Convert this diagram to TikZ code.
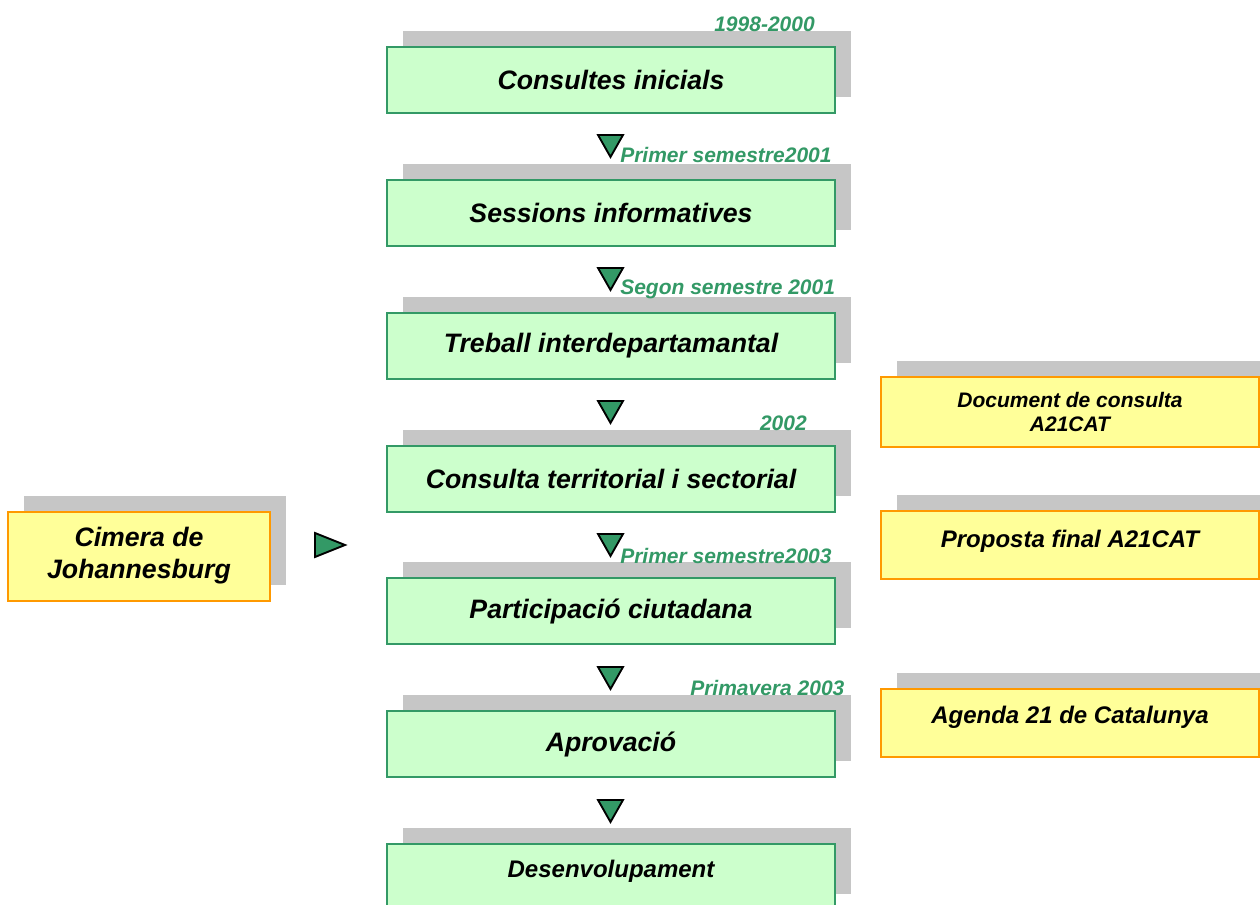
\documentclass[tikz,border=0pt]{standalone}
\usepackage{fontspec}
\setmainfont{Liberation Sans}
\usepackage{tikz}
\usetikzlibrary{shadows}
\definecolor{boxgreen}{HTML}{CCFFCC}
\definecolor{linegreen}{HTML}{339966}
\definecolor{boxyellow}{HTML}{FFFF99}
\definecolor{lineorange}{HTML}{FF9900}
\definecolor{shadowgray}{HTML}{C6C6C6}

\tikzset{
  boxshadow/.style={general shadow={fill=shadowgray, shadow xshift=12pt, shadow yshift=12pt}},
  stagebox/.style={boxshadow, draw=linegreen, line width=1.5pt, fill=boxgreen,
    minimum width=336pt, minimum height=49.5pt, inner sep=0pt,
    font=\fontsize{20}{24}\selectfont\bfseries\itshape},
  outbox/.style={boxshadow, draw=lineorange, line width=1.5pt, fill=boxyellow,
    minimum width=283.5pt, minimum height=50.5pt, inner sep=0pt, align=center,
    font=\fontsize{18}{20}\selectfont\bfseries\itshape},
  datelabel/.style={text=linegreen, inner sep=0pt,
    font=\fontsize{15.75}{18}\selectfont\bfseries\itshape},
  marker/.style={draw=black, line width=1.4pt, fill=linegreen, line join=miter}
}

\begin{document}
\begin{tikzpicture}[x=0.75pt,y=-0.75pt]
\useasboundingbox (0,0) rectangle (1260,905);
%% stages
\node[stagebox] (consultes) at (611,80) {Consultes inicials};
\node[stagebox] (sessions) at (611,213) {Sessions informatives};
\node[stagebox] (treball) at (611,346) {Treball interdepartamantal};
\node[stagebox] (consulta) at (611,479) {Consulta territorial i sectorial};
\node[stagebox] (participacio) at (611,611) {Participació ciutadana};
\node[stagebox] (aprovacio) at (611,744) {Aprovació};
\node[stagebox, font=\fontsize{18}{22}\selectfont\bfseries\itshape, text depth=12pt] (desenvolupament) at (611,877) {Desenvolupament};

%% dates
\node[datelabel, anchor=base east] (d1998) at (815,32) {1998-2000};
\node[datelabel, anchor=base west] (d2001a) at (620,163) {Primer semestre2001};
\node[datelabel, anchor=base west] (d2001b) at (620,295) {Segon semestre 2001};
\node[datelabel, anchor=base east] (d2002) at (807,431) {2002};
\node[datelabel, anchor=base west] (d2003a) at (620,563) {Primer semestre2003};
\node[datelabel, anchor=base west] (d2003b) at (690,695) {Primavera 2003};

%% results
\node[outbox, font=\fontsize{15.75}{18}\selectfont\bfseries\itshape, minimum height=51.75pt] (document) at (1070,412) {Document de consulta\\A21CAT};
\node[outbox, text depth=10pt] (proposta) at (1070,545) {Proposta final A21CAT};
\node[outbox, text depth=13pt] (agenda) at (1070,723) {Agenda 21 de Catalunya};
\node[outbox, minimum width=196.5pt, minimum height=66.75pt, font=\fontsize{20}{24}\selectfont\bfseries\itshape] (cimera) at (139,556) {Cimera de\\Johannesburg};

%% markers
\foreach \ty in {135,268,401,534,667,800}
    \draw[marker] (598,\ty) -- (623,\ty) -- (610.5,\ty+22) -- cycle;
\draw[marker] (315,533) -- (345,545) -- (315,557) -- cycle;
\end{tikzpicture}
\end{document}
